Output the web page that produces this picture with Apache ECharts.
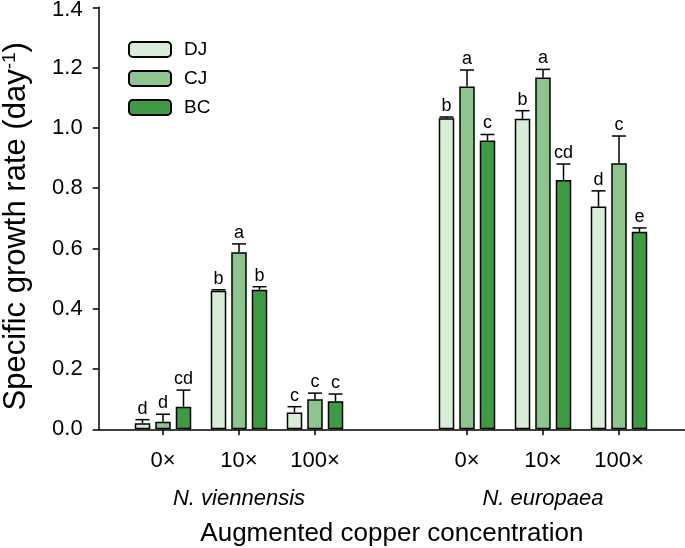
<!DOCTYPE html>
<html>
<head>
<meta charset="utf-8">
<script src="https://cdn.jsdelivr.net/npm/echarts@6/dist/echarts.min.js"></script>
<style>html,body{margin:0;padding:0;background:#fff}#c{width:685px;height:548px}</style>
</head>
<body>
<div id="c"></div>
<script>
// ---- data ----
const categories = ['0×', '10×', '100×', '', '0×', '10×', '100×'];
const groupLabels = ['', 'N. viennensis', '', '', '', 'N. europaea', ''];
const seriesNames = ['DJ', 'CJ', 'BC'];
const DJ = [0.020, 0.460, 0.056, null, 1.032, 1.030, 0.739];
const DJ_err = [0.012, 0.003, 0.019, null, 0.004, 0.027, 0.052];
const DJ_letters = ['d', 'b', 'c', '', 'b', 'b', 'd'];
const CJ = [0.025, 0.587, 0.100, null, 1.137, 1.167, 0.883];
const CJ_err = [0.025, 0.028, 0.020, null, 0.055, 0.027, 0.090];
const CJ_letters = ['d', 'a', 'c', '', 'a', 'a', 'c'];
const BC = [0.075, 0.463, 0.093, null, 0.958, 0.827, 0.655];
const BC_err = [0.055, 0.010, 0.024, null, 0.020, 0.053, 0.013];
const BC_letters = ['cd', 'b', 'c', '', 'c', 'cd', 'e'];
const yMin = 0, yMax = 1.4, yInterval = 0.2;
const xTitle = 'Augmented copper concentration';

// ---- style ----
const FONT = "'Liberation Sans', Arial, sans-serif";
const colors = ['#d9ecd8', '#8ec58e', '#3e9a43'];
const BAR_W = 15.5, BAR_GAP = 5;
const values = [DJ, CJ, BC], errs = [DJ_err, CJ_err, BC_err], letters = [DJ_letters, CJ_letters, BC_letters];

const chart = echarts.init(document.getElementById('c'));

const barSeries = seriesNames.map((n, i) => ({
  name: n, type: 'bar', xAxisIndex: 1, yAxisIndex: 1,
  data: values[i], barWidth: BAR_W, barGap: (BAR_GAP / BAR_W * 100) + '%',
  itemStyle: { color: colors[i], borderColor: '#000', borderWidth: 1.5 },
  z: 2
}));

const errSeries = seriesNames.map((n, i) => ({
  name: n + ' err', type: 'custom', xAxisIndex: 1, yAxisIndex: 1, z: 5,
  data: values[i].map((v, k) => v == null ? null : [k, v, errs[i][k]]).filter(d => d),
  renderItem: function (params, api) {
    const k = api.value(0), m = api.value(1), e = api.value(2);
    const off = (i - 1) * (BAR_W + BAR_GAP);
    const p0 = api.coord([k, m]);
    const p1 = api.coord([k, m + e]);
    const x = p0[0] + off;
    const capHalf = 7;
    return {
      type: 'group',
      children: [
        { type: 'line', shape: { x1: x, y1: p0[1], x2: x, y2: p1[1] }, style: { stroke: '#000', lineWidth: 1.5 } },
        { type: 'line', shape: { x1: x - capHalf, y1: p1[1], x2: x + capHalf, y2: p1[1] }, style: { stroke: '#000', lineWidth: 1.5 } },
        { type: 'text', style: { text: letters[i][k], x: x, y: p1[1] - 2, textAlign: 'center', textVerticalAlign: 'bottom', fontSize: 18, fontFamily: FONT, fill: '#000' } }
      ]
    };
  }
}));

const option = {
  animation: false,
  textStyle: { fontFamily: FONT },
  legend: {
    data: seriesNames, orient: 'vertical', left: 128, top: 40, padding: 0,
    itemWidth: 42, itemHeight: 15, itemGap: 10, selectedMode: false,
    textStyle: { fontSize: 19, color: '#000', fontFamily: FONT, padding: [0, 0, 0, 8] }
  },
  grid: [
    { left: 98.7, right: 0, top: 7.3, bottom: 118.7, outerBoundsMode: 'none', containLabel: false },
    { left: 125, right: 28, top: 7.3, bottom: 118.7, outerBoundsMode: 'none', containLabel: false }
  ],
  xAxis: [
    {
      gridIndex: 0, type: 'value', min: 0, max: 1,
      axisLine: { show: true, lineStyle: { color: '#000', width: 1.5 } },
      axisTick: { show: false }, axisLabel: { show: false }, splitLine: { show: false },
      name: xTitle, nameLocation: 'middle', nameGap: 92,
      nameTextStyle: { fontSize: 26, color: '#000', fontFamily: FONT, verticalAlign: 'top' }
    },
    {
      gridIndex: 1, type: 'category', data: categories, position: 'bottom',
      axisLine: { show: false },
      axisTick: { show: true, alignWithLabel: true, length: 6, lineStyle: { color: '#000', width: 1.5 },
        interval: (idx, val) => val !== '' },
      axisLabel: { fontSize: 22, color: '#000', margin: 21, interval: 0, fontFamily: FONT }
    },
    {
      gridIndex: 1, type: 'category', data: groupLabels, position: 'bottom',
      axisLine: { show: false }, axisTick: { show: false },
      axisLabel: { fontSize: 22, color: '#000', margin: 59, interval: 0, fontStyle: 'italic', fontFamily: FONT }
    }
  ],
  yAxis: [
    {
      gridIndex: 0, type: 'value', min: yMin, max: yMax, interval: yInterval,
      axisLine: { show: true, lineStyle: { color: '#000', width: 1.5 } },
      axisTick: { show: true, inside: false, length: 6, lineStyle: { color: '#000', width: 1.5 } },
      axisLabel: {
        fontSize: 22, color: '#000', margin: 16, fontFamily: FONT,
        formatter: v => (Math.abs(v - yMax) < 1e-9 ? '{top|' + v.toFixed(1) + '}' : v.toFixed(1)),
        rich: { top: { fontSize: 22, color: '#000', fontFamily: FONT, padding: [6, 0, 0, 0] } }
      },
      splitLine: { show: false },
      name: 'Specific growth rate (day{sup|-1})', nameLocation: 'middle', nameGap: 67,
      nameTextStyle: { fontSize: 31, color: '#000', fontFamily: FONT, padding: [0, 16, 0, 0],
        rich: { sup: { fontSize: 19, verticalAlign: 'top', padding: [0, 0, 12, 0], fontFamily: FONT, color: '#000' } } }
    },
    {
      gridIndex: 1, type: 'value', min: yMin, max: yMax, interval: yInterval, show: false
    }
  ],
  series: barSeries.concat(errSeries)
};
chart.setOption(option);
</script>
</body>
</html>
